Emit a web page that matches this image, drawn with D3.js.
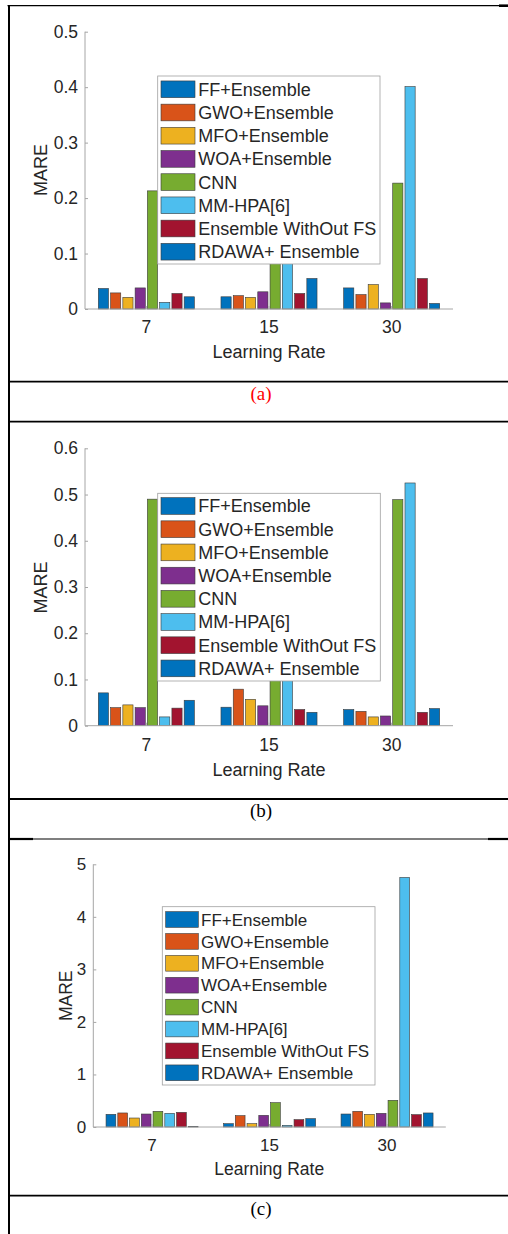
<!DOCTYPE html>
<html>
<head>
<meta charset="utf-8">
<script src="https://cdn.jsdelivr.net/npm/d3@7"></script>
<style>
  body { margin: 0; background: #fff; }
  svg { display: block; }
  text { font-family: "Liberation Sans", Arial, sans-serif; fill: #262626; }
  .caption { font-family: "Liberation Serif", "Times New Roman", serif; }
</style>
</head>
<body>
<svg id="fig" width="508" height="1234"></svg>
<script>
// data
const categories = ["7", "15", "30"]
const seriesNames = ["FF+Ensemble", "GWO+Ensemble", "MFO+Ensemble", "WOA+Ensemble",
  "CNN", "MM-HPA[6]", "Ensemble WithOut FS", "RDAWA+ Ensemble"]
const seriesColors = ["#0072BD", "#D95319", "#EDB120", "#7E2F8E",
  "#77AC30", "#4DBEEE", "#A2142F", "#0072BD"]

// one row per learning rate, one value per series
const mareA = [
  [0.037, 0.029, 0.021, 0.038, 0.213, 0.012, 0.028, 0.022],
  [0.022, 0.024, 0.021, 0.031, 0.12, 0.10, 0.028, 0.055],
  [0.038, 0.026, 0.044, 0.011, 0.227, 0.401, 0.055, 0.010]
]
const mareB = [
  [0.071, 0.039, 0.045, 0.039, 0.490, 0.019, 0.038, 0.055],
  [0.040, 0.079, 0.057, 0.043, 0.13, 0.11, 0.035, 0.029],
  [0.035, 0.031, 0.019, 0.021, 0.489, 0.525, 0.029, 0.037]
]
const mareC = [
  [0.241, 0.267, 0.171, 0.247, 0.298, 0.260, 0.279, 0.013],
  [0.063, 0.216, 0.063, 0.222, 0.463, 0.032, 0.140, 0.159],
  [0.247, 0.298, 0.241, 0.260, 0.508, 4.75, 0.235, 0.267]
]

const yTicksA = [0, 0.1, 0.2, 0.3, 0.4, 0.5]
const yTicksB = [0, 0.1, 0.2, 0.3, 0.4, 0.5, 0.6]
const yTicksC = [0, 1, 2, 3, 4, 5]

const svg = d3.select("#fig")

// table frame around the three figures
function rule(x1, y1, x2, y2, w) {
  svg.append("line").attr("x1", x1).attr("y1", y1).attr("x2", x2).attr("y2", y2)
    .attr("stroke", "#000").attr("stroke-width", w)
}
rule(9, 5, 9, 1234, 2)
rule(7.5, 5.7, 508, 5.7, 1.3)
rule(499, 5.7, 508, 5.7, 2.6)
rule(9, 381.7, 508, 381.7, 1.8)
rule(9, 421.7, 508, 421.7, 1.8)
rule(9, 799, 508, 799, 1.8)
rule(9, 839, 508, 839, 1.2)
rule(9, 839, 33, 839, 2.2)
rule(488, 839, 508, 839, 2.2)
rule(9, 1195.7, 508, 1195.7, 1.8)

function drawPanel(p) {
  const g = svg.append("g")

  const x = d3.scaleBand().domain(categories).range([p.x0, p.x1]).padding(0)
  const groupW = x.bandwidth() * 0.8
  const xs = d3.scaleBand().domain(d3.range(seriesNames.length))
    .range([-groupW / 2, groupW / 2]).paddingInner(0.17).paddingOuter(0.085)
  const y = d3.scaleLinear().domain(p.domain).range([p.y0, p.yTop])

  // bars
  categories.forEach((c, ci) => {
    g.selectAll(null).data(p.values[ci]).enter().append("rect")
      .attr("x", (v, i) => x(c) + x.bandwidth() / 2 + xs(i))
      .attr("y", v => y(v))
      .attr("width", xs.bandwidth())
      .attr("height", v => y(0) - y(v))
      .attr("fill", (v, i) => seriesColors[i])
      .attr("stroke", "#3a3a3a").attr("stroke-width", 0.6)
  })

  // axes
  const yAxis = g.append("g").attr("transform", `translate(${p.x0},0)`)
    .call(d3.axisRight(y).tickValues(p.ticks).tickSize(3).tickFormat(d3.format("")))
  yAxis.select(".domain").attr("stroke", "#a6a6a6").attr("d", `M0,${p.y0}V${p.yTop}`)
  yAxis.selectAll(".tick line").attr("stroke", "#a6a6a6")
  yAxis.selectAll(".tick text").attr("x", -7).attr("text-anchor", "end")
    .attr("font-size", p.tickFont).attr("fill", "#262626")
    .attr("font-family", "Liberation Sans, Arial, sans-serif")

  const xAxis = g.append("g").attr("transform", `translate(0,${p.y0})`)
    .call(d3.axisTop(x).tickSize(3))
  xAxis.select(".domain").attr("stroke", "#a6a6a6").attr("d", `M${p.x0},0H${p.x1}`)
  xAxis.selectAll(".tick line").attr("stroke", "#a6a6a6")
  xAxis.selectAll(".tick text").attr("y", p.xTickBase - p.y0).attr("dy", 0)
    .attr("font-size", p.tickFont).attr("fill", "#262626")
    .attr("font-family", "Liberation Sans, Arial, sans-serif")

  g.append("text").attr("x", p.xLabelX).attr("y", p.xLabelBase)
    .attr("text-anchor", "middle").attr("font-size", p.labelFont).text("Learning Rate")
  g.append("text").attr("transform", `translate(${p.mareX},${p.mareY}) rotate(-90)`)
    .attr("text-anchor", "middle").attr("font-size", p.labelFont).text("MARE")

  // legend on top of the bars
  const L = p.legend
  const lg = g.append("g")
  lg.append("rect").attr("x", L.x).attr("y", L.y).attr("width", L.w).attr("height", L.h)
    .attr("fill", "#fff").attr("stroke", "#a0a0a0").attr("stroke-width", 0.8)
  seriesNames.forEach((name, i) => {
    const cy = L.first + i * L.step
    lg.append("rect").attr("x", L.swX).attr("y", cy - L.swH / 2)
      .attr("width", L.swW).attr("height", L.swH)
      .attr("fill", seriesColors[i]).attr("stroke", "#3a3a3a").attr("stroke-width", 0.6)
    lg.append("text").attr("x", L.textX).attr("y", cy).attr("dy", "0.36em")
      .attr("font-size", L.font).text(name)
  })

  svg.append("text").attr("class", "caption").attr("x", 261).attr("y", p.capBase)
    .attr("text-anchor", "middle").attr("font-size", 19)
    .style("fill", p.capColor).text(p.caption)
}

drawPanel({
  values: mareA, ticks: yTicksA, domain: [0, 0.5],
  x0: 85, x1: 453, yTop: 31.7, y0: 309,
  tickFont: 17.5, labelFont: 18, xTickBase: 333.3, xLabelX: 269, xLabelBase: 358.3,
  mareX: 46.7, mareY: 170,
  legend: { x: 157.7, y: 76, w: 222.3, h: 188, first: 89.3, step: 23.2,
    swX: 161, swW: 34, swH: 16.7, textX: 198.3, font: 18 },
  caption: "(a)", capBase: 400, capColor: "#f00"
})

drawPanel({
  values: mareB, ticks: yTicksB, domain: [0, 0.6],
  x0: 85, x1: 453, yTop: 448.3, y0: 725.7,
  tickFont: 17.5, labelFont: 18, xTickBase: 750.7, xLabelX: 269, xLabelBase: 775.7,
  mareX: 46.7, mareY: 587.5,
  legend: { x: 157.7, y: 493.3, w: 222.6, h: 187.7, first: 506, step: 23.2,
    swX: 161, swW: 34, swH: 16.7, textX: 198.3, font: 18 },
  caption: "(b)", capBase: 816.7, capColor: "#000"
})

drawPanel({
  values: mareC, ticks: yTicksC, domain: [0, 5],
  x0: 93.3, x1: 445.8, yTop: 864.3, y0: 1127,
  tickFont: 17, labelFont: 17.5, xTickBase: 1150.7, xLabelX: 269.2, xLabelBase: 1175,
  mareX: 71.7, mareY: 995.8,
  legend: { x: 162.3, y: 906.7, w: 212.7, h: 178.3, first: 919.5, step: 21.9,
    swX: 165.7, swW: 32.6, swH: 15.7, textX: 201, font: 17 },
  caption: "(c)", capBase: 1215, capColor: "#000"
})
</script>
</body>
</html>
